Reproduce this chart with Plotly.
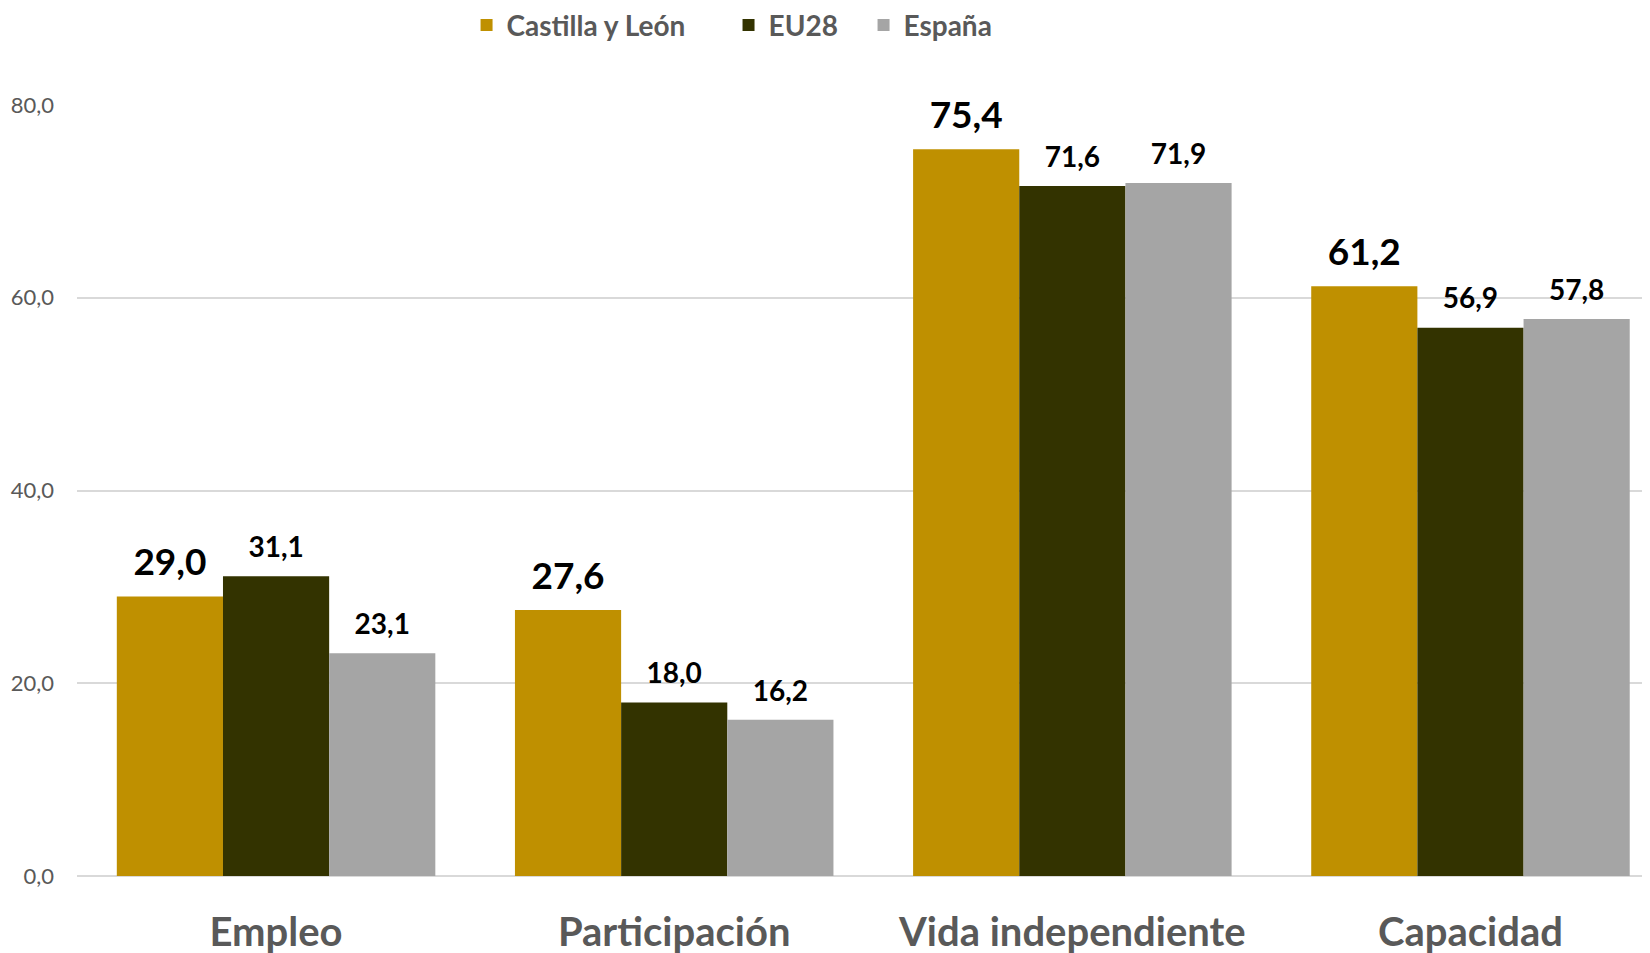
import plotly.graph_objects as go

# Datos
categorias = ['Empleo', 'Participación', 'Vida independiente', 'Capacidad']
castilla_leon = [29.0, 27.6, 75.4, 61.2]
eu28 = [31.1, 18.0, 71.6, 56.9]
espana = [23.1, 16.2, 71.9, 57.8]

series = [
    ('Castilla y León', castilla_leon, '#BF9000', 37, 'legend', 0.2464),
    ('EU28', eu28, '#333300', 28, 'legend2', 0.4121),
    ('España', espana, '#A5A5A5', 28, 'legend3', 0.4975),
]

FONT = 'Lato, Calibri, sans-serif'

fig = go.Figure()
for name, vals, color, size, leg, lx in series:
    fig.add_trace(go.Bar(
        x=categorias,
        y=vals,
        name=name,
        marker_color=color,
        marker_line_width=0,
        offsetgroup=name,
        legend=leg,
    ))
    # etiquetas de datos (puntos invisibles para separar el texto de la barra)
    fig.add_trace(go.Scatter(
        x=categorias,
        y=vals,
        mode='markers+text',
        marker=dict(size=18, opacity=0),
        text=[f'{v:.1f}'.replace('.', ',') for v in vals],
        textposition='top center',
        textfont=dict(family=FONT, size=size, color='#000000', weight='bold'),
        offsetgroup=name,
        cliponaxis=False,
        showlegend=False,
        hoverinfo='skip',
    ))

legend_style = dict(
    orientation='h',
    xanchor='left',
    y=1.1035, yanchor='middle',
    font=dict(family=FONT, size=28, color='#595959', weight='bold'),
    itemwidth=30,
)

fig.update_layout(
    barmode='group',
    scattermode='group',
    bargap=0.2,
    bargroupgap=0,
    width=1650,
    height=953,
    plot_bgcolor='white',
    paper_bgcolor='white',
    separators=',.',
    margin=dict(l=69, r=0, t=97, b=85, autoexpand=False),
    font=dict(family=FONT, color='#595959'),
    legend=dict(x=series[0][5], **legend_style),
    legend2=dict(x=series[1][5], **legend_style),
    legend3=dict(x=series[2][5], **legend_style),
    showlegend=True,
)

fig.update_xaxes(
    range=[-0.5, 3.471],
    showgrid=False,
    showline=False,
    ticks='',
    tickfont=dict(family=FONT, size=40, color='#595959', weight='bold'),
    ticklabelstandoff=29,
)

fig.update_yaxes(
    range=[0, 80],
    dtick=20,
    tickformat='.1f',
    showgrid=True,
    gridcolor='#D9D9D9',
    gridwidth=2,
    zeroline=True,
    zerolinecolor='#D9D9D9',
    zerolinewidth=2,
    showline=False,
    ticks='',
    tickfont=dict(family=FONT, size=22, color='#595959'),
    ticklabelstandoff=22,
)

fig.write_html('out.html')
